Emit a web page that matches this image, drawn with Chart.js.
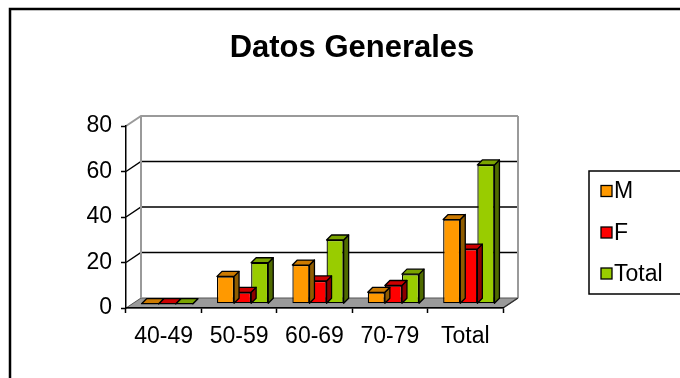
<!DOCTYPE html>
<html>
<head>
<meta charset="utf-8">
<script src="https://cdn.jsdelivr.net/npm/chart.js@4.4.1/dist/chart.umd.min.js"></script>
<style>
  html, body { margin: 0; padding: 0; background: #fff; }
  canvas { display: block; }
</style>
</head>
<body>
<canvas id="c" width="680" height="378"></canvas>
<script>
// Chart data
const categories = ['40-49', '50-59', '60-69', '70-79', 'Total'];
const seriesNames = ['M', 'F', 'Total'];
const valuesM = [0, 12, 17, 5, 37];
const valuesF = [0, 5, 10, 8, 24];
const valuesTotal = [0, 18, 28, 13, 61];
const yTicks = [0, 20, 40, 60, 80];
const chartTitle = 'Datos Generales';

const FONT = '"Liberation Sans", Arial, sans-serif';

// front / top / side shades of each series
const shades = [
  { front: '#FF9900', top: '#CC7A00', side: '#8F5C00' },
  { front: '#FF0000', top: '#CC0000', side: '#8C0000' },
  { front: '#99CC00', top: '#7AA300', side: '#4F6B00' }
];

// oblique offsets of the pseudo-3D box
const WALL = { dx: 15, dy: -10 };   // back wall relative to axis plane
const BARS = { dx: 3.5, dy: -4.3 }; // front faces of the columns
const DEPTH = { dx: 5, dy: -5 };    // column thickness

const scene3d = {
  id: 'scene3d',
  beforeDraw(chart) {
    const { ctx, chartArea: a, scales: { y } } = chart;
    ctx.save();
    ctx.fillStyle = '#fff';
    ctx.fillRect(0, 0, chart.width, chart.height);

    // outer frame
    ctx.strokeStyle = '#000';
    ctx.lineWidth = 2.5;
    ctx.strokeRect(10, 9, 720, 420);

    // title
    ctx.fillStyle = '#000';
    ctx.font = 'bold 31px ' + FONT;
    ctx.textAlign = 'center';
    ctx.textBaseline = 'middle';
    ctx.fillText(chartTitle, 352, 48);

    const y0 = y.getPixelForValue(0);
    const yTop = y.getPixelForValue(y.max);

    // floor
    ctx.beginPath();
    ctx.moveTo(a.left, y0);
    ctx.lineTo(a.left + WALL.dx, y0 + WALL.dy);
    ctx.lineTo(a.right + WALL.dx, y0 + WALL.dy);
    ctx.lineTo(a.right, y0);
    ctx.closePath();
    ctx.fillStyle = '#9a9a9a';
    ctx.fill();
    ctx.strokeStyle = '#555';
    ctx.lineWidth = 1;
    ctx.stroke();

    // gridlines on side wall and back wall
    yTicks.forEach(v => {
      if (v === 0) return;
      const py = y.getPixelForValue(v);
      const edge = v === y.max;
      ctx.strokeStyle = edge ? '#9a9a9a' : '#000';
      ctx.lineWidth = edge ? 2 : 1.5;
      ctx.beginPath();
      ctx.moveTo(a.left, py);
      ctx.lineTo(a.left + WALL.dx, py + WALL.dy);
      ctx.lineTo(a.right + WALL.dx, py + WALL.dy);
      ctx.stroke();
    });

    // wall edges
    ctx.strokeStyle = '#9a9a9a';
    ctx.lineWidth = 2;
    ctx.beginPath();
    ctx.moveTo(a.left + WALL.dx, yTop + WALL.dy);
    ctx.lineTo(a.left + WALL.dx, y0 + WALL.dy);
    ctx.moveTo(a.right + WALL.dx, yTop + WALL.dy);
    ctx.lineTo(a.right + WALL.dx, y0 + WALL.dy);
    ctx.stroke();

    // floor right edge
    ctx.strokeStyle = '#333';
    ctx.lineWidth = 1.5;
    ctx.beginPath();
    ctx.moveTo(a.right, y0);
    ctx.lineTo(a.right + WALL.dx, y0 + WALL.dy);
    ctx.stroke();
    ctx.restore();
  },
  beforeDatasetsDraw(chart) {
    chart.ctx.save();
    chart.ctx.translate(BARS.dx, BARS.dy);
  },
  beforeDatasetDraw(chart, args) {
    const ctx = chart.ctx;
    const c = shades[args.index];
    ctx.save();
    ctx.strokeStyle = '#000';
    ctx.lineWidth = 1.3;
    ctx.lineJoin = 'round';
    args.meta.data.forEach(bar => {
      const { x, y: top, base, width } = bar.getProps(['x', 'y', 'base', 'width'], true);
      const l = x - width / 2, r = x + width / 2;
      // side face
      ctx.beginPath();
      ctx.moveTo(r, top);
      ctx.lineTo(r + DEPTH.dx, top + DEPTH.dy);
      ctx.lineTo(r + DEPTH.dx, base + DEPTH.dy);
      ctx.lineTo(r, base);
      ctx.closePath();
      ctx.fillStyle = c.side;
      ctx.fill();
      ctx.stroke();
      // top face
      ctx.beginPath();
      ctx.moveTo(l, top);
      ctx.lineTo(l + DEPTH.dx, top + DEPTH.dy);
      ctx.lineTo(r + DEPTH.dx, top + DEPTH.dy);
      ctx.lineTo(r, top);
      ctx.closePath();
      ctx.fillStyle = c.top;
      ctx.fill();
      ctx.stroke();
    });
    ctx.restore();
  },
  afterDatasetsDraw(chart) {
    chart.ctx.restore();
  },
  afterDraw(chart) {
    const ctx = chart.ctx;
    ctx.save();
    // legend box
    ctx.strokeStyle = '#000';
    ctx.lineWidth = 1.5;
    ctx.strokeRect(589, 171, 140, 123);
    const rows = [191, 232.5, 273.5];
    ctx.font = '23px ' + FONT;
    ctx.textAlign = 'left';
    ctx.textBaseline = 'middle';
    chart.data.datasets.forEach((ds, i) => {
      const cy = rows[i];
      ctx.fillStyle = ds.backgroundColor;
      ctx.fillRect(601, cy - 5.5, 11, 11);
      ctx.lineWidth = 1.3;
      ctx.strokeRect(601, cy - 5.5, 11, 11);
      ctx.fillStyle = '#000';
      ctx.fillText(ds.label, 614, cy + 1);
    });
    ctx.restore();
  }
};

Chart.defaults.font.family = FONT;

const seriesValues = [valuesM, valuesF, valuesTotal];

new Chart(document.getElementById('c'), {
  type: 'bar',
  data: {
    labels: categories,
    datasets: seriesNames.map((name, i) => ({
      label: name,
      data: seriesValues[i],
      backgroundColor: shades[i].front,
      borderColor: '#000',
      borderWidth: 1.3,
      borderSkipped: false,
      categoryPercentage: 0.68,
      barPercentage: 1.0
    }))
  },
  options: {
    responsive: false,
    animation: false,
    events: [],
    layout: { padding: { left: 0, right: 177, top: 126, bottom: 0 } },
    plugins: {
      legend: { display: false },
      title: { display: false },
      tooltip: { enabled: false }
    },
    scales: {
      x: {
        grid: { display: true, drawOnChartArea: false, drawTicks: true, tickLength: 5, tickColor: '#000', tickWidth: 1.5, offset: true },
        border: { display: true, color: '#000', width: 1.5 },
        ticks: { color: '#000', font: { size: 23 }, padding: 10, maxRotation: 0, autoSkip: false },
        afterFit(s) { s.height = 70; }
      },
      y: {
        min: 0,
        max: 80,
        afterBuildTicks(s) { s.ticks = yTicks.map(v => ({ value: v })); },
        grid: { display: true, drawOnChartArea: false, drawTicks: true, tickLength: 5, tickColor: '#000', tickWidth: 1.5 },
        border: { display: true, color: '#000', width: 1.5 },
        ticks: { color: '#000', font: { size: 23 }, padding: 9 },
        afterFit(s) { s.width = 126; }
      }
    }
  },
  plugins: [scene3d]
});
</script>
</body>
</html>
